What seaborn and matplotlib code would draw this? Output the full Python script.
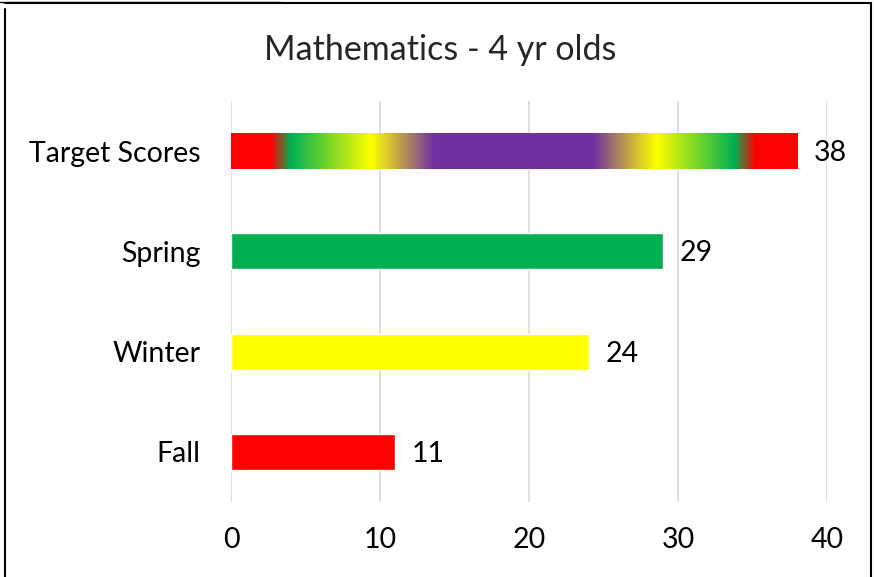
import numpy as np
import pandas as pd
import matplotlib
matplotlib.use("Agg")
import matplotlib.pyplot as plt
import seaborn as sns
from matplotlib.colors import LinearSegmentedColormap
from matplotlib.lines import Line2D

categories = ["Target Scores", "Spring", "Winter", "Fall"]
scores = [38, 29, 24, 11]
bar_colors = ["#7030A0", "#00B050", "#FFFF00", "#FF0000"]
title = "Mathematics - 4 yr olds"
x_ticks = [0, 10, 20, 30, 40]

# gradient stops for the "Target Scores" bar
grad_pos = [0.0, 0.07, 0.105, 0.247, 0.358, 0.639, 0.75, 0.889, 0.926, 1.0]
grad_cols = ["#FF0000", "#FF0000", "#00B050", "#FFFF00", "#7030A0",
             "#7030A0", "#FFFF00", "#00B050", "#FF0000", "#FF0000"]

sns.set_theme(style="white")
plt.rcParams["font.family"] = ["Lato", "DejaVu Sans"]

df = pd.DataFrame({"cat": categories, "score": scores})

fig = plt.figure(figsize=(8.74, 5.77), dpi=100)
ax = fig.add_axes([231 / 874, 1 - 502 / 577, (827 - 231) / 874, (502 - 101) / 577])

sns.barplot(data=df, y="cat", x="score", hue="cat", palette=bar_colors,
            order=categories, hue_order=categories, width=0.36, saturation=1,
            legend=False, ax=ax, orient="h", zorder=3)

ax.set_xlim(0, 40)
ax.set_ylim(3.5, -0.5)
ax.set_xticks(x_ticks)
ax.set_xlabel("")
ax.set_ylabel("")
ax.grid(axis="x", color="#D9D9D9", linewidth=1.2, zorder=0)
ax.grid(axis="y", visible=False)
for s in ax.spines.values():
    s.set_visible(False)
ax.tick_params(axis="both", length=0, labelsize=20.5, colors="black")
ax.tick_params(axis="x", pad=18)
ax.tick_params(axis="y", pad=22)

# gradient fill for the target bar
cmap = LinearSegmentedColormap.from_list("tgt", list(zip(grad_pos, grad_cols)), N=512)
patch = ax.patches[0]
x0, y0 = patch.get_x(), patch.get_y()
w, h = patch.get_width(), patch.get_height()
patch.set_facecolor("none")
grad = np.linspace(0, 1, 512).reshape(1, -1)
im = ax.imshow(grad, cmap=cmap, aspect="auto", extent=[x0, x0 + w, y0 + h, y0],
               zorder=3, interpolation="bilinear")
im.set_clip_path(patch)
ax.set_xlim(0, 40)
ax.set_ylim(3.5, -0.5)

for i, v in enumerate(scores):
    ax.annotate(str(v), xy=(v, i), xytext=(12, -1.5), textcoords="offset points",
                va="center", ha="left", fontsize=20.5, color="black")

fig.text(440 / 874, 1 - 50 / 577, title, ha="center", va="center", fontsize=24.5)

# outer frame
fig.add_artist(Line2D([5 / 874, 5 / 874], [0, 1 - 9 / 577], color="black", lw=1.5))
fig.add_artist(Line2D([871 / 874, 871 / 874], [0, 1 - 3 / 577], color="black", lw=1.5))
fig.add_artist(Line2D([5 / 874, 871 / 874], [1 - 3 / 577, 1 - 3 / 577], color="black", lw=1.5))
fig.add_artist(Line2D([0, 280 / 874], [1 - 1.5 / 577, 1 - 1.5 / 577], color="black", lw=1))

fig.savefig("out.png", dpi=100)
